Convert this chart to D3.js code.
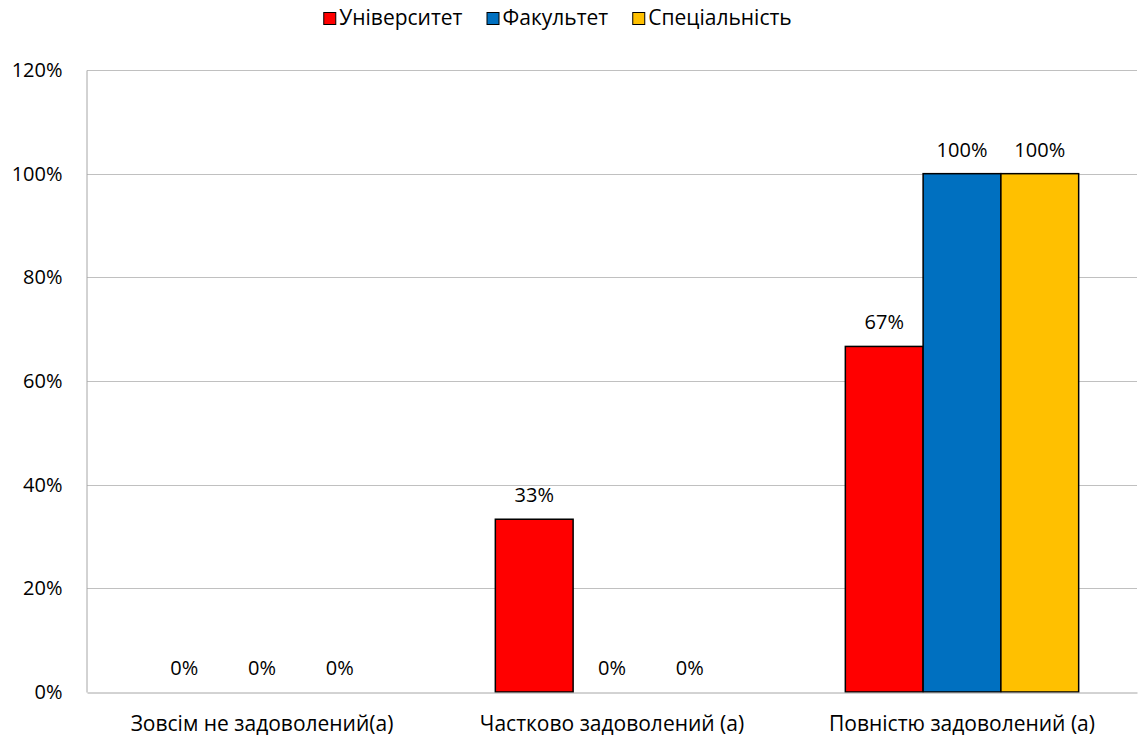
<!DOCTYPE html>
<html><head><meta charset="utf-8">
<script src="https://cdn.jsdelivr.net/npm/d3@7"></script>
<style>body{margin:0;background:#fff}text{font-family:"Open Sans",sans-serif;fill:#000}</style>
</head><body><svg id="c" width="1139" height="736"></svg>
<script>
const categories = ["Зовсім не задоволений(а)", "Частково задоволений (а)", "Повністю задоволений (а)"];
const seriesNames = ["Університет", "Факультет", "Спеціальність"];
const seriesColors = ["#FF0000", "#0070C0", "#FFC000"];
const university = [0, 0.3333, 0.6667];
const faculty = [0, 0, 1];
const specialty = [0, 0, 1];
const yTicks = [0, 0.2, 0.4, 0.6, 0.8, 1.0, 1.2];

const series = [university, faculty, specialty];
const svg = d3.select("#c");
const m = {l: 87, r: 2, t: 70, b: 44};
const W = 1139, H = 736;
const fs = 20, fsT = 21;

const x0 = d3.scaleBand().domain(categories).range([m.l, W - m.r]).paddingInner(0).paddingOuter(0);
const x1 = d3.scaleBand().domain(d3.range(3)).range([0, x0.bandwidth()]).paddingInner(0).paddingOuter(0.75);
const y = d3.scaleLinear().domain([0, 1.2]).range([H - m.b, m.t]);
const fmt = d3.format(".0%");

// gridlines
svg.append("g").selectAll("line").data(yTicks.filter(d => d > 0)).join("line")
  .attr("x1", m.l).attr("x2", W - m.r)
  .attr("y1", d => Math.round(y(d)) + 0.5).attr("y2", d => Math.round(y(d)) + 0.5)
  .attr("stroke", "#c0c0c0").attr("stroke-width", 1);

// y axis
const yAxis = svg.append("g").attr("transform", `translate(${m.l - 0.5},0)`)
  .call(d3.axisLeft(y).tickValues(yTicks).tickFormat(fmt).tickSize(0).tickPadding(24));
yAxis.select(".domain").attr("stroke", "#a6a6a6");
yAxis.selectAll("text").style("font-size", fs + "px").style("font-family", "Open Sans");

// bars
categories.forEach((c, ci) => {
  series.forEach((s, si) => {
    const v = s[ci];
    const bx = x0(c) + x1(si);
    if (v > 0) {
      svg.append("rect").attr("x", bx).attr("y", y(v))
        .attr("width", x1.bandwidth()).attr("height", y(0) - y(v))
        .attr("fill", seriesColors[si]).attr("stroke", "#000").attr("stroke-width", 1.5);
    }
    svg.append("text").attr("x", bx + x1.bandwidth() / 2).attr("y", y(v) - 17)
      .attr("text-anchor", "middle").style("font-size", fs + "px").text(fmt(v));
  });
});

// x axis
const xAxis = svg.append("g").attr("transform", `translate(0,${Math.round(y(0)) + 0.5})`)
  .call(d3.axisBottom(x0).tickSize(0).tickPadding(0));
xAxis.select(".domain").attr("stroke", "#a6a6a6");
xAxis.selectAll("text").attr("dy", null).attr("y", 38).style("font-size", fsT + "px").style("font-family", "Open Sans");

// legend
const leg = svg.append("g");
let lx = 0;
seriesNames.forEach((n, i) => {
  const g = leg.append("g");
  g.append("rect").attr("x", 0.5).attr("y", -12.5).attr("width", 12).attr("height", 12)
    .attr("fill", seriesColors[i]).attr("stroke", "#000").attr("stroke-width", 1);
  const t = g.append("text").attr("x", 16).attr("y", 0).style("font-size", fsT + "px").text(n);
  const w = 16 + t.node().getComputedTextLength();
  g.attr("transform", `translate(${lx},0)`);
  lx += w + 24;
});
const total = lx - 24;
leg.attr("transform", `translate(${(W - total) / 2 - 12},25)`);
</script></body></html>
